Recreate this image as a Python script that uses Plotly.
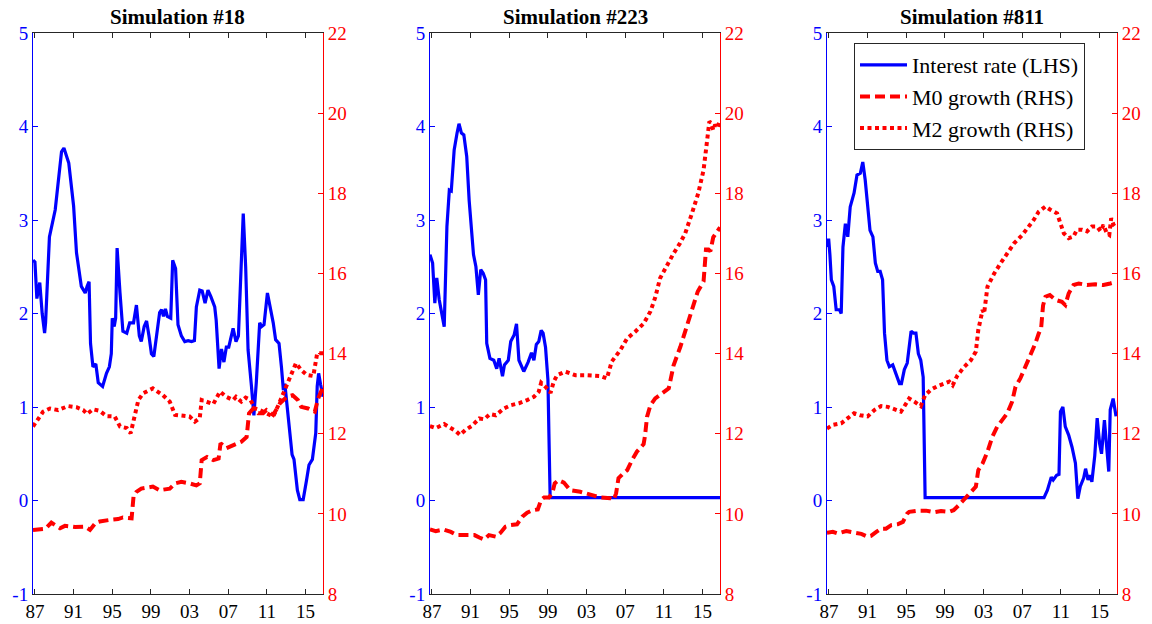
import plotly.graph_objects as go

# ---------------- data (years as decimal, rates in %, growth in %) ----------------
# Simulation #18
s18_rate_t = [1986.8, 1987.0, 1987.2, 1987.5, 1987.75, 1988.0, 1988.1, 1988.5, 1989.1, 1989.75, 1990.0,
              1990.5, 1991.0, 1991.3, 1991.8, 1992.2, 1992.4, 1992.6, 1992.75, 1993.0, 1993.3, 1993.55,
              1994.0, 1994.4, 1994.7, 1994.9, 1995.0, 1995.2, 1995.35, 1995.5, 1995.8, 1996.1, 1996.5,
              1996.8, 1997.2, 1997.5, 1997.8, 1998.0, 1998.3, 1998.55, 1998.8, 1999.05, 1999.3, 1999.6,
              1999.9, 2000.1, 2000.3, 2000.5, 2000.7, 2001.05, 2001.25, 2001.55, 2001.8, 2002.15, 2002.5,
              2002.85, 2003.2, 2003.5, 2003.7, 2004.05, 2004.3, 2004.6, 2004.9, 2005.2, 2005.6, 2005.75,
              2006.05, 2006.3, 2006.55, 2006.8, 2007.05, 2007.5, 2007.8, 2008.05, 2008.55, 2008.8, 2009.05,
              2009.4, 2009.65, 2009.9, 2010.25, 2010.45, 2010.7, 2011.05, 2011.4, 2011.65, 2011.9, 2012.25,
              2012.5, 2012.7, 2012.85, 2013.1, 2013.35, 2013.6, 2013.8, 2014.15, 2014.4, 2014.75, 2015.1,
              2015.35, 2015.7, 2016.05, 2016.2, 2016.35, 2016.55, 2016.8]
s18_rate = [2.57, 2.55, 2.16, 2.33, 2.0, 1.79, 1.90, 2.82, 3.11, 3.73, 3.77,
            3.61, 3.15, 2.65, 2.29, 2.22, 2.29, 2.34, 1.68, 1.43, 1.46, 1.26,
            1.22, 1.36, 1.43, 1.57, 1.95, 1.86, 1.95, 2.70, 2.22, 1.81, 1.79,
            1.90, 1.90, 2.09, 1.76, 1.70, 1.86, 1.92, 1.76, 1.57, 1.54, 1.76,
            2.01, 2.04, 1.97, 2.05, 1.97, 1.95, 2.57, 2.48, 1.88, 1.76, 1.70,
            1.71, 1.70, 1.71, 2.07, 2.25, 2.24, 2.11, 2.25, 2.18, 2.07, 1.93,
            1.41, 1.62, 1.48, 1.64, 1.64, 1.84, 1.70, 1.76, 3.07, 2.50, 1.61,
            1.22, 0.91, 1.26, 1.90, 1.86, 1.88, 2.22, 2.04, 1.90, 1.72, 1.68,
            1.43, 1.18, 1.25, 1.00, 0.72, 0.49, 0.44, 0.11, 0.01, 0.01, 0.22,
            0.38, 0.44, 0.72, 1.22, 1.36, 1.24, 1.11]
s18_m0_t = [1986.8, 1987.85, 1988.1, 1988.7, 1989.25, 1989.6, 1990.1, 1991.15, 1992.2, 1992.7, 1993.3,
            1993.7, 1994.75, 1995.6, 1996.1, 1997.0, 1997.2, 1997.5, 1998.0, 1999.2, 1999.9, 2000.95,
            2001.5, 2002.15, 2003.0, 2003.7, 2004.05, 2004.25, 2004.8, 2005.45, 2006.0, 2006.2, 2006.8,
            2007.5, 2008.35, 2008.9, 2009.15, 2009.6, 2010.1, 2010.6, 2010.95, 2011.65, 2012.35, 2013.05,
            2013.65, 2014.2, 2014.55, 2015.25, 2015.95, 2016.3, 2016.65, 2016.8]
s18_m0 = [9.60, 9.61, 9.63, 9.78, 9.70, 9.64, 9.70, 9.67, 9.68, 9.60, 9.78,
          9.81, 9.85, 9.87, 9.91, 9.89, 10.43, 10.55, 10.63, 10.68, 10.59, 10.63,
          10.76, 10.80, 10.76, 10.71, 10.76, 11.34, 11.42, 11.34, 11.38, 11.76, 11.64,
          11.72, 11.80, 11.92, 12.51, 12.63, 12.51, 12.51, 12.59, 12.47, 12.76, 12.92,
          12.96, 12.84, 12.67, 12.63, 12.55, 12.88, 13.13, 13.17]
s18_m2_t = [1986.8, 1987.35, 1987.85, 1988.55, 1989.4, 1990.45, 1991.3, 1992.0, 1992.4, 1993.0, 1993.7,
            1994.4, 1995.25, 1995.8, 1996.5, 1996.9, 1997.2, 1997.7, 1998.2, 1999.2, 2000.25, 2000.95,
            2001.5, 2002.3, 2003.0, 2003.55, 2004.05, 2004.25, 2004.8, 2005.45, 2006.15, 2006.8, 2007.5,
            2007.8, 2008.35, 2008.8, 2009.3, 2009.75, 2010.25, 2010.95, 2011.65, 2012.2, 2012.85, 2013.35,
            2014.0, 2014.55, 2015.1, 2015.8, 2016.2, 2016.8]
s18_m2 = [12.18, 12.39, 12.55, 12.63, 12.59, 12.69, 12.66, 12.59, 12.49, 12.61, 12.57,
          12.44, 12.43, 12.18, 12.14, 12.01, 12.34, 12.84, 13.01, 13.13, 12.96, 12.80,
          12.47, 12.44, 12.43, 12.30, 12.39, 12.84, 12.80, 12.74, 13.05, 12.92, 12.84,
          12.92, 12.80, 12.90, 12.84, 12.63, 12.59, 12.51, 12.43, 12.72, 13.09, 13.34,
          13.76, 13.59, 13.47, 13.44, 14.01, 14.01]

# Simulation #223
s223_rate_t = [1986.8, 1987.07, 1987.3, 1987.5, 1987.75, 1988.0, 1988.27, 1988.55, 1988.8, 1989.0, 1989.3,
               1989.6, 1989.8, 1990.05, 1990.3, 1990.6, 1990.85, 1991.3, 1991.55, 1991.8, 1992.05, 1992.3,
               1992.55, 1992.67, 1993.0, 1993.4, 1993.7, 1993.95, 1994.3, 1994.5, 1994.9, 1995.15, 1995.5,
               1995.75, 1996.0, 1996.5, 1996.95, 1997.3, 1997.55, 1997.8, 1998.05, 1998.3, 1998.5, 1998.75,
               1999.0, 1999.1, 1999.23, 2005.0, 2010.0, 2016.8]
s223_rate = [2.63, 2.54, 2.11, 2.38, 2.15, 2.00, 1.86, 2.93, 3.32, 3.31, 3.75,
             3.93, 4.03, 3.93, 3.91, 3.68, 3.21, 2.63, 2.50, 2.20, 2.47, 2.43,
             2.36, 1.68, 1.52, 1.50, 1.41, 1.52, 1.33, 1.45, 1.50, 1.70, 1.77,
             1.89, 1.50, 1.38, 1.48, 1.58, 1.50, 1.67, 1.70, 1.82, 1.79, 1.64,
             1.29, 0.72, 0.03, 0.03, 0.03, 0.03]
s223_m0_t = [1986.8, 1987.4, 1988.2, 1988.96, 1989.6, 1990.7, 1991.4, 1991.9, 1992.4, 1992.9, 1993.6,
             1994.1, 1994.6, 1995.15, 1995.8, 1996.35, 1996.85, 1997.4, 1997.95, 1998.3, 1998.6, 1999.1,
             1999.45, 1999.7, 2000.1, 2000.65, 2001.3, 2002.35, 2003.4, 2004.4, 2005.45, 2005.8, 2006.05,
             2006.3, 2006.8, 2007.2, 2007.7, 2008.2, 2008.9, 2009.05, 2009.25, 2009.6, 2010.1, 2010.8,
             2011.5, 2012.0, 2012.7, 2013.35, 2014.0, 2014.5, 2015.1, 2015.35, 2015.6, 2015.8, 2016.1,
             2016.8]
s223_m0 = [9.61, 9.57, 9.61, 9.55, 9.47, 9.47, 9.47, 9.41, 9.36, 9.47, 9.43,
           9.53, 9.68, 9.72, 9.74, 9.93, 10.03, 10.09, 10.11, 10.35, 10.41, 10.41,
           10.51, 10.76, 10.84, 10.78, 10.59, 10.55, 10.47, 10.41, 10.39, 10.35, 10.51,
           10.89, 11.01, 11.09, 11.34, 11.55, 11.74, 11.96, 12.42, 12.71, 12.88, 13.00,
           13.13, 13.71, 14.17, 14.67, 15.20, 15.55, 15.80, 16.60, 16.60, 16.55, 16.90,
           17.15]
s223_m2_t = [1986.8, 1987.4, 1988.27, 1988.96, 1989.5, 1989.9, 1990.5, 1991.1, 1991.9, 1992.4, 1993.0,
             1993.6, 1994.45, 1995.15, 1996.0, 1996.85, 1997.55, 1998.05, 1998.3, 1998.75, 1999.27, 1999.6,
             1999.95, 2000.8, 2001.85, 2003.05, 2004.4, 2005.1, 2005.6, 2006.5, 2007.2, 2008.0, 2008.9,
             2009.6, 2010.1, 2010.6, 2011.3, 2012.0, 2012.65, 2013.2, 2013.9, 2014.55, 2015.1, 2015.4,
             2015.7, 2015.9, 2016.1, 2016.3, 2016.55, 2016.8]
s223_m2 = [12.19, 12.14, 12.24, 12.14, 12.06, 11.97, 12.10, 12.19, 12.38, 12.36, 12.49,
           12.46, 12.63, 12.71, 12.76, 12.84, 12.92, 13.05, 13.27, 13.17, 13.02, 13.30,
           13.46, 13.55, 13.46, 13.46, 13.44, 13.38, 13.80, 14.09, 14.38, 14.54, 14.75,
           15.05, 15.40, 15.88, 16.21, 16.50, 16.75, 17.00, 17.50, 18.00, 18.58, 19.25,
           19.79, 19.75, 19.58, 19.71, 19.63, 19.83]

# Simulation #811
s811_rate_t = [1986.8, 1986.97, 1987.1, 1987.25, 1987.5, 1987.75, 1988.1, 1988.27, 1988.45, 1988.7, 1988.95,
               1989.2, 1989.6, 1989.9, 1990.25, 1990.5, 1990.75, 1991.0, 1991.25, 1991.55, 1991.8, 1992.05,
               1992.3, 1992.55, 1992.75, 1993.0, 1993.25, 1993.6, 1993.95, 1994.3, 1994.5, 1994.8, 1995.1,
               1995.3, 1995.5, 1995.75, 1996.0, 1996.25, 1996.5, 1996.75, 1996.95, 2003.0, 2009.25, 2009.6,
               2010.0, 2010.2, 2010.55, 2010.8, 2010.95, 2011.2, 2011.45, 2011.8, 2012.15, 2012.5, 2012.75,
               2013.0, 2013.35, 2013.55, 2013.8, 2014.0, 2014.2, 2014.5, 2014.75, 2015.0, 2015.2, 2015.5,
               2015.7, 2015.95, 2016.1, 2016.4, 2016.7]
s811_rate = [2.71, 2.80, 2.63, 2.36, 2.29, 2.04, 2.04, 2.00, 2.71, 2.96, 2.82,
             3.14, 3.29, 3.48, 3.50, 3.62, 3.43, 3.18, 2.89, 2.82, 2.54, 2.45,
             2.45, 2.36, 1.79, 1.50, 1.43, 1.45, 1.34, 1.25, 1.25, 1.40, 1.47,
             1.64, 1.81, 1.79, 1.79, 1.57, 1.50, 1.32, 0.03, 0.03, 0.03, 0.11,
             0.25, 0.22, 0.27, 0.28, 0.95, 1.00, 0.79, 0.70, 0.57, 0.40, 0.02,
             0.15, 0.24, 0.34, 0.22, 0.27, 0.20, 0.48, 0.88, 0.61, 0.50, 0.86,
             0.57, 0.31, 0.97, 1.09, 0.90]
s811_m0_t = [1986.8, 1987.4, 1987.9, 1988.8, 1989.65, 1990.35, 1991.0, 1991.35, 1991.9, 1992.4, 1992.9,
             1993.45, 1994.1, 1994.65, 1995.1, 1995.3, 1996.2, 1997.05, 1997.9, 1998.6, 1999.45, 1999.9,
             2000.45, 2001.15, 2001.85, 2002.2, 2002.45, 2002.9, 2003.4, 2003.9, 2004.4, 2004.95, 2005.45,
             2005.95, 2006.3, 2006.8, 2007.35, 2007.85, 2008.35, 2008.7, 2008.95, 2009.15, 2009.4, 2009.85,
             2010.45, 2011.1, 2011.45, 2011.8, 2012.3, 2012.85, 2013.7, 2014.55, 2015.4, 2016.1, 2016.7]
s811_m0 = [9.53, 9.55, 9.51, 9.57, 9.53, 9.50, 9.43, 9.45, 9.55, 9.63, 9.63,
           9.72, 9.74, 9.80, 10.01, 10.05, 10.08, 10.08, 10.04, 10.07, 10.05, 10.09,
           10.22, 10.39, 10.59, 10.68, 11.09, 11.26, 11.55, 11.92, 12.17, 12.34, 12.51,
           12.80, 13.17, 13.38, 13.67, 13.96, 14.25, 14.50, 14.63, 15.20, 15.42, 15.46,
           15.34, 15.29, 15.21, 15.50, 15.71, 15.75, 15.71, 15.73, 15.71, 15.75, 15.79]
s811_m2_t = [1986.8, 1987.4, 1988.27, 1988.95, 1989.6, 1990.25, 1991.0, 1991.7, 1992.4, 1993.1, 1993.75,
             1994.45, 1995.0, 1995.3, 1995.85, 1996.5, 1996.95, 1997.55, 1998.25, 1998.9, 1999.45, 1999.8,
             2000.3, 2001.0, 2001.7, 2002.2, 2002.45, 2002.9, 2003.05, 2003.4, 2004.1, 2004.75, 2005.45,
             2006.15, 2007.0, 2007.7, 2008.2, 2008.7, 2009.4, 2009.9, 2010.6, 2010.95, 2011.3, 2011.8,
             2012.3, 2012.65, 2013.2, 2013.7, 2014.2, 2014.75, 2015.1, 2015.4, 2015.75, 2016.0, 2016.2,
             2016.45, 2016.7]
s811_m2 = [12.13, 12.22, 12.26, 12.38, 12.51, 12.46, 12.43, 12.59, 12.69, 12.67, 12.61,
           12.55, 12.76, 12.88, 12.80, 12.69, 12.96, 13.10, 13.19, 13.25, 13.30, 13.21,
           13.46, 13.67, 13.84, 14.05, 14.59, 15.09, 15.00, 15.67, 16.00, 16.25, 16.50,
           16.75, 16.96, 17.17, 17.34, 17.54, 17.67, 17.59, 17.50, 17.25, 17.00, 16.88,
           16.92, 17.09, 17.09, 17.05, 17.17, 17.17, 17.05, 17.21, 17.00, 16.96, 17.38,
           17.21, 17.13]

titles = ["Simulation #18", "Simulation #223", "Simulation #811"]
panels = [
    (s18_rate_t, s18_rate, s18_m0_t, s18_m0, s18_m2_t, s18_m2),
    (s223_rate_t, s223_rate, s223_m0_t, s223_m0, s223_m2_t, s223_m2),
    (s811_rate_t, s811_rate, s811_m0_t, s811_m0, s811_m2_t, s811_m2),
]
series_names = ["Interest rate (LHS)", "M0 growth (RHS)", "M2 growth (RHS)"]
year_ticks = [1987, 1991, 1995, 1999, 2003, 2007, 2011, 2015]
year_labels = ["87", "91", "95", "99", "03", "07", "11", "15"]
lhs_ticks = [-1, 0, 1, 2, 3, 4, 5]
lhs_labels = ["-1", "0", "1", "2", "3", "4", "5"]
rhs_ticks = [8, 10, 12, 14, 16, 18, 20, 22]

# ---------------- layout ----------------
W, H = 1152, 624
FONT = "Liberation Serif"
BLUE = "#0000ff"
RED = "#ff0000"
AXC = "#262626"
x_px = [(33, 323), (430, 720), (827, 1117)]
y_dom = [1 - 594 / H, 1 - 33 / H]

fig = go.Figure()
layout = dict(
    width=W, height=H,
    margin=dict(l=0, r=0, t=0, b=0, pad=0, autoexpand=False),
    paper_bgcolor="white", plot_bgcolor="white",
    font=dict(family=FONT, size=19, color="black"),
    showlegend=True,
    legend=dict(
        x=854 / W, y=1 - 43 / H, xanchor="left", yanchor="top",
        bgcolor="white", bordercolor=AXC, borderwidth=1,
        font=dict(family=FONT, size=22, color="black"),
        itemwidth=47, tracegroupgap=0,
    ),
    annotations=[],
)

for i, (rt, rv, m0t, m0v, m2t, m2v) in enumerate(panels):
    xa = "x" if i == 0 else f"x{i + 1}"
    yl = "y" if i == 0 else f"y{2 * i + 1}"
    yr = f"y{2 * i + 2}"
    xkey = "xaxis" if i == 0 else f"xaxis{i + 1}"
    ylkey = "yaxis" if i == 0 else f"yaxis{2 * i + 1}"
    yrkey = f"yaxis{2 * i + 2}"
    dom = [x_px[i][0] / W, x_px[i][1] / W]

    fig.add_trace(go.Scatter(x=rt, y=rv, xaxis=xa, yaxis=yl, mode="lines",
                             name=series_names[0], showlegend=(i == 2),
                             line=dict(color=BLUE, width=3.2)))
    fig.add_trace(go.Scatter(x=m0t, y=m0v, xaxis=xa, yaxis=yr, mode="lines",
                             name=series_names[1], showlegend=(i == 2),
                             line=dict(color=RED, width=4, dash="10px,5px")))
    fig.add_trace(go.Scatter(x=m2t, y=m2v, xaxis=xa, yaxis=yr, mode="lines",
                             name=series_names[2], showlegend=(i == 2),
                             line=dict(color=RED, width=4, dash="4px,3.5px")))

    layout[xkey] = dict(
        domain=dom, range=[1986.8, 2016.8], anchor=yl, automargin=False,
        tickvals=year_ticks, ticktext=year_labels,
        ticks="inside", ticklen=5, tickcolor=AXC, tickwidth=1,
        showline=True, linecolor=AXC, linewidth=1, mirror="ticks",
        showgrid=False, zeroline=False,
        tickfont=dict(family=FONT, size=19, color="black"),
    )
    layout[ylkey] = dict(
        domain=y_dom, range=[-1, 5], anchor=xa, automargin=False,
        tickvals=lhs_ticks, ticktext=lhs_labels, ticks="inside", ticklen=5, tickcolor=BLUE,
        showline=True, linecolor=BLUE, linewidth=1,
        showgrid=False, zeroline=False,
        tickfont=dict(family=FONT, size=19, color=BLUE),
    )
    layout[yrkey] = dict(
        domain=y_dom, range=[8, 22], anchor=xa, overlaying=yl, side="right",
        automargin=False,
        tickvals=rhs_ticks, ticks="inside", ticklen=5, tickcolor=RED,
        showline=True, linecolor=RED, linewidth=1,
        showgrid=False, zeroline=False,
        tickfont=dict(family=FONT, size=19, color=RED),
    )
    layout["annotations"].append(dict(
        text=f"<b>{titles[i]}</b>", xref="paper", yref="paper",
        x=(dom[0] + dom[1]) / 2, y=1 - 17 / H, xanchor="center", yanchor="middle",
        showarrow=False, font=dict(family=FONT, size=21, color="black"),
    ))

fig.update_layout(**layout)
fig.write_html("out.html")
